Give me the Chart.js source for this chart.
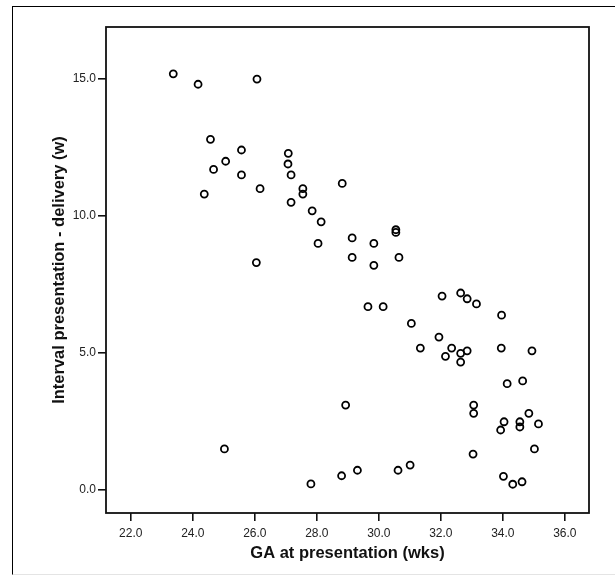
<!DOCTYPE html>
<html>
<head>
<meta charset="utf-8">
<script src="https://cdn.jsdelivr.net/npm/chart.js@4.4.1/dist/chart.umd.min.js"></script>
<style>
  body { margin: 0; background: #fff; }
  #wrap { position: relative; width: 615px; height: 576px; }
  #frame {
    position: absolute; left: 12px; top: 6px; right: 0; bottom: 1px;
    border-left: 1.5px solid #000; border-top: 1.5px solid #000;
    border-bottom: 1px solid #e4e4e4;
  }
  #chart { position: absolute; left: 0; top: 0; }
</style>
</head>
<body>
<div id="wrap">
  <div id="frame"></div>
  <canvas id="chart" width="615" height="576"></canvas>
</div>
<script>
// GA at presentation (wks) vs interval presentation - delivery (w)
var gaWeeks = [23.37, 24.17, 26.07, 24.57, 25.57, 27.08, 25.06, 27.07, 24.67, 25.57,
               27.17, 27.55, 27.55, 26.17, 24.37, 27.17, 27.85, 28.14, 28.04, 26.05,
               28.82, 30.55, 30.55, 29.14, 29.84, 29.14, 29.84, 30.65, 29.65, 30.14,
               32.04, 32.64, 32.85, 33.15, 33.96, 31.05, 31.94, 31.34, 32.35, 32.15,
               32.64, 32.85, 32.64, 33.95, 34.94, 34.14, 34.64, 28.93, 33.06, 33.06,
               34.84, 34.04, 34.55, 33.93, 34.55, 35.15, 35.02, 33.04, 28.80, 29.31,
               30.62, 31.01, 34.02, 34.32, 34.62, 25.02, 27.81];
var intervalWeeks = [15.19, 14.81, 15.0, 12.8, 12.41, 12.29, 12.0, 11.9, 11.7, 11.5,
                     11.5, 11.0, 10.8, 11.0, 10.8, 10.5, 10.19, 9.79, 9.0, 8.3,
                     11.19, 9.5, 9.4, 9.2, 9.0, 8.49, 8.2, 8.49, 6.69, 6.69,
                     7.08, 7.19, 6.98, 6.79, 6.38, 6.08, 5.58, 5.18, 5.18, 4.88,
                     4.99, 5.08, 4.67, 5.18, 5.08, 3.88, 3.98, 3.1, 3.1, 2.8,
                     2.8, 2.49, 2.49, 2.19, 2.3, 2.41, 1.5, 1.31, 0.52, 0.72,
                     0.72, 0.91, 0.5, 0.21, 0.3, 1.5, 0.22];
var xTicks = [22, 24, 26, 28, 30, 32, 34, 36];
var yTicks = [0, 5, 10, 15];

var points = gaWeeks.map(function(x, i) { return { x: x, y: intervalWeeks[i] }; });

// box round the plot area
var plotBox = {
    id: "plotBox",
    beforeDatasetsDraw: function(chart) {
        var a = chart.chartArea, ctx = chart.ctx;
        ctx.save();
        ctx.strokeStyle = "#111";
        ctx.lineWidth = 1.8;
        ctx.strokeRect(a.left, a.top, a.right - a.left, a.bottom - a.top);
        ctx.restore();
    }
};

var tickFont = { family: "'Liberation Sans', Arial, sans-serif", size: 12 };
var titleFont = { family: "'Liberation Sans', Arial, sans-serif", size: 16.5, weight: "bold" };

new Chart(document.getElementById("chart"), {
    type: "scatter",
    data: {
        datasets: [{
            data: points,
            pointStyle: "circle",
            pointRadius: 3.5,
            pointBorderWidth: 1.8,
            borderColor: "#000",
            backgroundColor: "rgba(255,255,255,0)"
        }]
    },
    options: {
        responsive: false,
        animation: false,
        events: [],
        layout: { padding: { left: 0, top: 27, right: 26, bottom: 0 } },
        plugins: { legend: { display: false }, tooltip: { enabled: false } },
        scales: {
            x: {
                type: "linear",
                min: 21.2,
                max: 36.78,
                afterBuildTicks: function(scale) {
                    scale.ticks = xTicks.map(function(v) { return { value: v }; });
                },
                afterFit: function(scale) { scale.height = 63; },
                border: { display: false },
                grid: { drawOnChartArea: false, drawTicks: true, tickLength: 8, color: "#111", lineWidth: 1.6 },
                ticks: {
                    padding: 5,
                    color: "#222",
                    font: tickFont,
                    maxRotation: 0,
                    callback: function(v) { return Number(v).toFixed(1); }
                },
                title: {
                    display: true,
                    text: "GA at presentation (wks)",
                    color: "#111",
                    font: titleFont,
                    padding: { top: 0, bottom: 13 }
                }
            },
            y: {
                type: "linear",
                min: -0.84,
                max: 16.9,
                afterBuildTicks: function(scale) {
                    scale.ticks = yTicks.map(function(v) { return { value: v }; });
                },
                afterFit: function(scale) { scale.width = 106; },
                border: { display: false },
                grid: { drawOnChartArea: false, drawTicks: true, tickLength: 8, color: "#111", lineWidth: 1.6 },
                ticks: {
                    padding: 2,
                    color: "#222",
                    font: tickFont,
                    callback: function(v) { return Number(v).toFixed(1); }
                },
                title: {
                    display: true,
                    text: "Interval presentation - delivery (w)",
                    color: "#111",
                    font: titleFont,
                    padding: { top: 50, bottom: 0 }
                }
            }
        }
    },
    plugins: [plotBox]
});
</script>
</body>
</html>
